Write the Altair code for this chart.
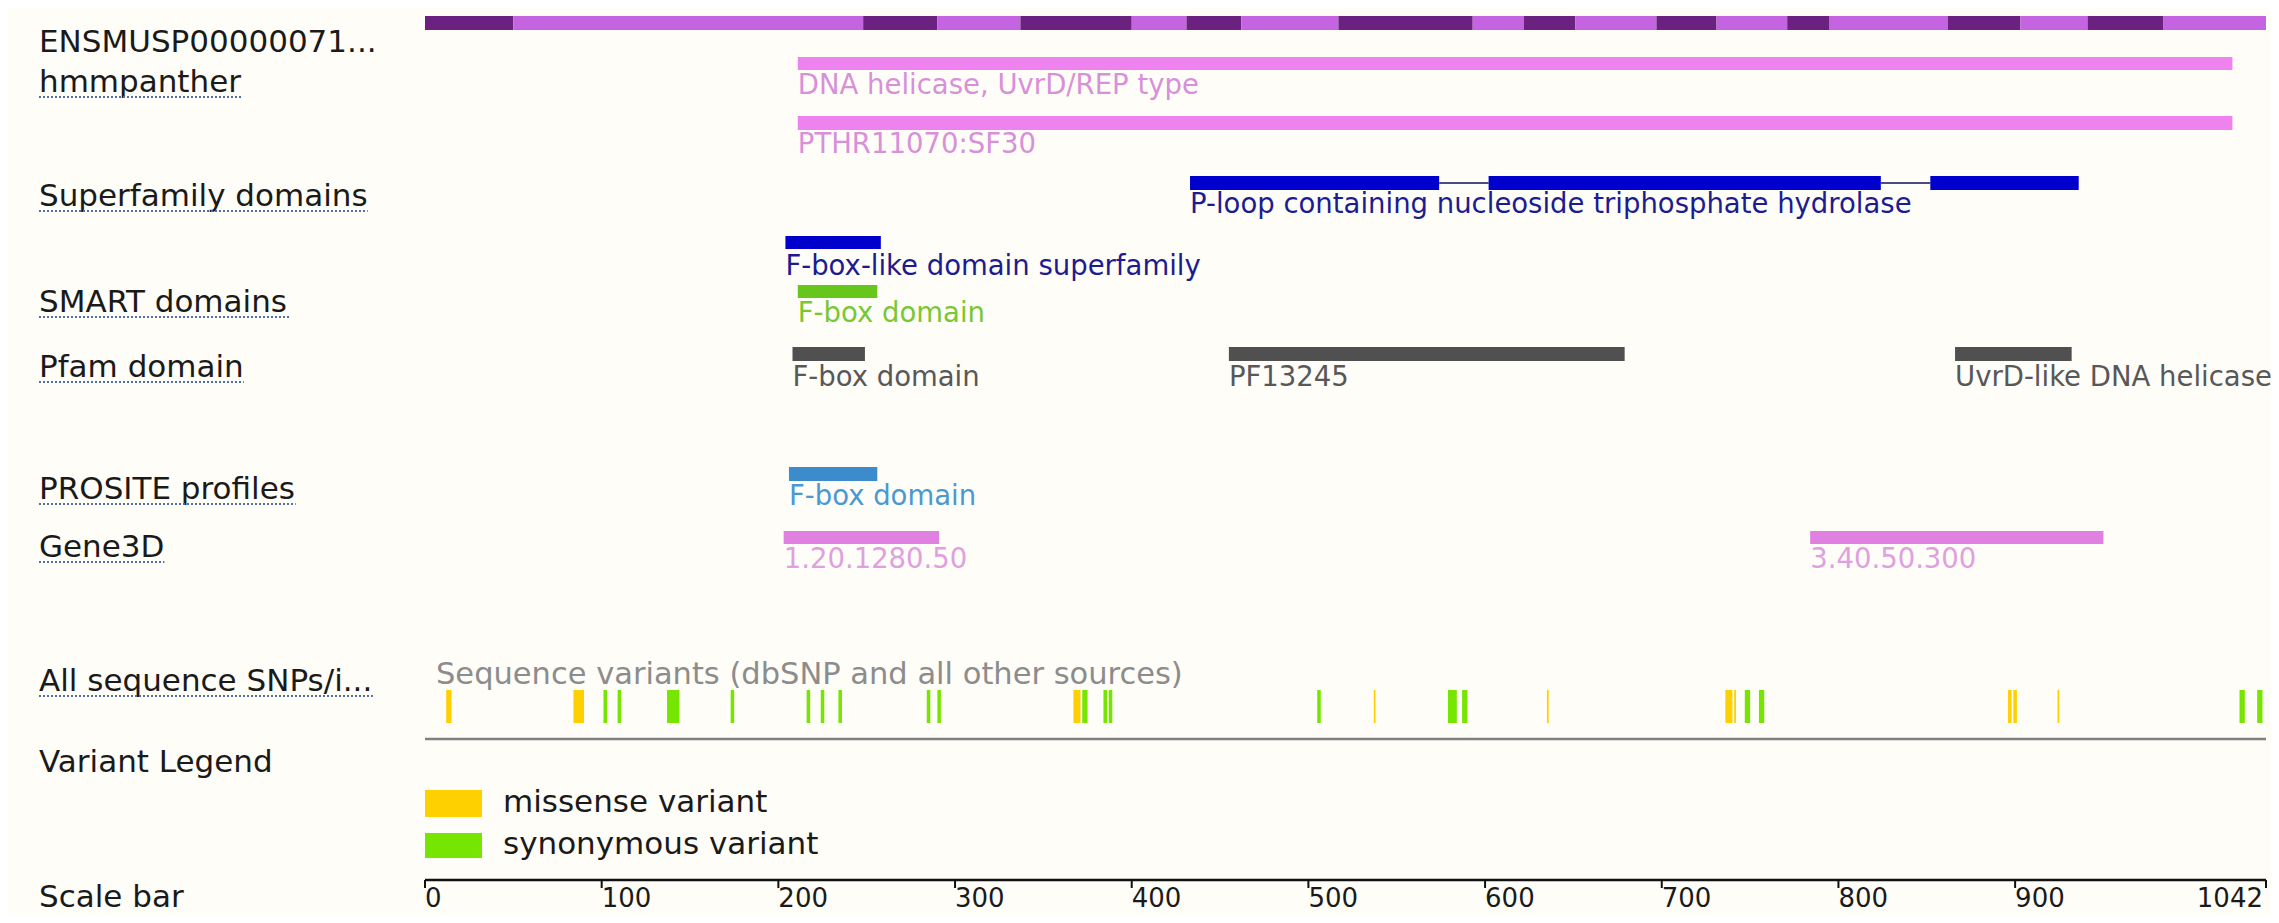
import altair as alt
import pandas as pd

# ---------------- data ----------------
PROTEIN_LENGTH = 1042
exon_bounds = [0, 50, 248, 290, 337, 400, 431, 462, 517, 593, 622, 651,
               697, 731, 771, 795, 862, 903, 941, 984, 1042]

track_labels = ["ENSMUSP00000071...", "hmmpanther", "Superfamily domains",
                "SMART domains", "Pfam domain", "PROSITE profiles", "Gene3D",
                "All sequence SNPs/i...", "Variant Legend", "Scale bar"]
track_linked = [False, True, True, True, True, True, True, True, False, False]

feature_rows = ["hmm1", "hmm2", "sf_fbox", "smart", "pfam", "pfam", "pfam",
                "prosite", "gene3d", "gene3d"]
feature_names = ["DNA helicase, UvrD/REP type", "PTHR11070:SF30",
                 "F-box-like domain superfamily", "F-box domain", "F-box domain",
                 "PF13245", "UvrD-like DNA helicase", "F-box domain",
                 "1.20.1280.50", "3.40.50.300"]
feature_start = [211, 211, 204, 211, 208, 455, 866, 206, 203, 784]
feature_end = [1023, 1023, 258, 256, 249, 679, 932, 256, 291, 950]

ploop_name = "P-loop containing nucleoside triphosphate hydrolase"
ploop_start = [433, 602, 852]
ploop_end = [574, 824, 936]

variant_start = [12, 84, 101, 109, 137, 173, 216, 224, 234, 284, 290, 367, 372,
                 384, 387, 505, 537, 579, 587, 635, 736, 741, 747, 755, 896,
                 899, 924, 1027, 1037]
variant_end = [15, 90, 103, 111, 144, 175, 218, 226, 236, 286, 292, 371, 375,
               386, 389, 507, 538, 584, 590, 636, 740, 742, 750, 758, 898,
               901, 925, 1030, 1040]
variant_type = ["missense variant", "missense variant", "synonymous variant",
                "synonymous variant", "synonymous variant", "synonymous variant",
                "synonymous variant", "synonymous variant", "synonymous variant",
                "synonymous variant", "synonymous variant", "missense variant",
                "synonymous variant", "synonymous variant", "synonymous variant",
                "synonymous variant", "missense variant", "synonymous variant",
                "synonymous variant", "missense variant", "missense variant",
                "missense variant", "synonymous variant", "synonymous variant",
                "missense variant", "missense variant", "missense variant",
                "synonymous variant", "synonymous variant"]
variants_caption = "Sequence variants (dbSNP and all other sources)"
legend_types = ["missense variant", "synonymous variant"]
scale_ticks = [0, 100, 200, 300, 400, 500, 600, 700, 800, 900, 1042]

# ---------------- layout & style ----------------
W, H = 2263, 907
X0, X1 = 417, 2258
LABEL_X = 31
FONT = "DejaVu Sans"
LEFT_SIZE, FEAT_SIZE, TICK_SIZE, LEG_SIZE = 31, 27.5, 26, 31

ROW = {
    "protein": dict(top=8, bottom=22),
    "hmm1": dict(top=49, bottom=62, text=86),
    "hmm2": dict(top=108, bottom=122, text=145),
    "ploop": dict(top=168, bottom=182, text=205),
    "sf_fbox": dict(top=228, bottom=241, text=267),
    "smart": dict(top=277, bottom=290, text=314),
    "pfam": dict(top=339, bottom=353, text=378),
    "prosite": dict(top=459, bottom=473, text=497),
    "gene3d": dict(top=523, bottom=536, text=560),
    "snp": dict(top=682, bottom=715, line=731, text=676),
    "scale": dict(line=872, tick=880, text=899),
}
LABEL_BASE = [44, 84, 198, 304, 369, 491, 549, 683, 764, 899]
LEGEND_ROWS = [dict(top=782, bottom=809, text=804), dict(top=825, bottom=850, text=846)]
SWATCH_X = (417, 474)
LEGEND_TEXT_X = 495

STYLE = {  # bar colour, label colour
    "hmm1": ("#EE82EE", "#D890D8"),
    "hmm2": ("#EE82EE", "#D890D8"),
    "ploop": ("#0000CD", "#1C1C90"),
    "sf_fbox": ("#0000CD", "#1C1C90"),
    "smart": ("#66C61C", "#78C832"),
    "pfam": ("#505050", "#585858"),
    "prosite": ("#3C8CCB", "#4A98D2"),
    "gene3d": ("#E080E0", "#E0A0E0"),
}
EXON_DARK, EXON_LIGHT = "#6A2180", "#C464E0"
VAR_COLORS = {"missense variant": "#FFD000", "synonymous variant": "#76E600"}

CHAR_W = {" ": .318, "A": .684, "B": .686, "C": .698, "D": .770, "E": .632,
          "F": .575, "G": .775, "I": .295, "L": .557, "M": .863, "N": .748,
          "O": .787, "P": .603, "R": .695, "S": .635, "T": .611, "U": .732,
          "V": .684, "a": .613, "b": .635, "c": .550, "d": .635, "e": .615,
          "f": .352, "g": .635, "h": .634, "i": .278, "l": .278, "m": .974,
          "n": .634, "o": .612, "p": .635, "q": .635, "r": .411, "s": .521,
          "t": .392, "u": .634, "v": .592, "y": .592, "/": .337, ".": .318,
          "-": .361, "3": .636}


def text_width(s, size):
    return sum(CHAR_W.get(c, .6) for c in s) * size


xs = alt.Scale(domain=[0, PROTEIN_LENGTH], range=[X0, X1])
ys = alt.Scale(domain=[0, H], range=[0, H])


def X(f):
    return alt.X(f"{f}:Q", scale=xs, axis=None)


def Y(f):
    return alt.Y(f"{f}:Q", scale=ys, axis=None)


layers = []

# protein bar (exons)
exon_df = pd.DataFrame({
    "start": exon_bounds[:-1], "end": exon_bounds[1:],
    "shade": ["dark" if i % 2 == 0 else "light" for i in range(len(exon_bounds) - 1)],
})
exon_df["y0"] = ROW["protein"]["top"]
exon_df["y1"] = ROW["protein"]["bottom"]
layers.append(alt.Chart(exon_df).mark_rect().encode(
    x=X("start"), x2="end", y=Y("y0"), y2="y1",
    color=alt.Color("shade:N", scale=alt.Scale(domain=["dark", "light"],
                                              range=[EXON_DARK, EXON_LIGHT]), legend=None)))

# domain features
feat_df = pd.DataFrame({"row": feature_rows, "name": feature_names,
                        "start": feature_start, "end": feature_end})
for row in ["hmm1", "hmm2", "sf_fbox", "smart", "pfam", "prosite", "gene3d"]:
    d = feat_df[feat_df.row == row].copy()
    d["y0"] = ROW[row]["top"]
    d["y1"] = ROW[row]["bottom"]
    d["ty"] = ROW[row]["text"]
    bar_c, txt_c = STYLE[row]
    layers.append(alt.Chart(d).mark_rect(color=bar_c).encode(
        x=X("start"), x2="end", y=Y("y0"), y2="y1"))
    layers.append(alt.Chart(d).mark_text(
        align="left", baseline="alphabetic", font=FONT, fontSize=FEAT_SIZE,
        color=txt_c).encode(x=X("start"), y=Y("ty"), text="name:N"))

# P-loop superfamily (multi-part)
pl_df = pd.DataFrame({"start": ploop_start, "end": ploop_end})
pl_df["y0"] = ROW["ploop"]["top"]
pl_df["y1"] = ROW["ploop"]["bottom"]
link_df = pd.DataFrame({"start": ploop_end[:-1], "end": ploop_start[1:]})
link_df["ym"] = (ROW["ploop"]["top"] + ROW["ploop"]["bottom"]) / 2
layers.append(alt.Chart(link_df).mark_rule(color="#10105A", strokeWidth=1.5).encode(
    x=X("start"), x2="end", y=Y("ym")))
layers.append(alt.Chart(pl_df).mark_rect(color=STYLE["ploop"][0]).encode(
    x=X("start"), x2="end", y=Y("y0"), y2="y1"))
pl_lab = pd.DataFrame({"name": [ploop_name], "start": [ploop_start[0]],
                       "ty": [ROW["ploop"]["text"]]})
layers.append(alt.Chart(pl_lab).mark_text(
    align="left", baseline="alphabetic", font=FONT, fontSize=FEAT_SIZE,
    color=STYLE["ploop"][1]).encode(x=X("start"), y=Y("ty"), text="name:N"))

# variants
var_df = pd.DataFrame({"start": variant_start, "end": variant_end, "type": variant_type})
var_df["y0"] = ROW["snp"]["top"]
var_df["y1"] = ROW["snp"]["bottom"]
var_scale = alt.Scale(domain=legend_types, range=[VAR_COLORS[t] for t in legend_types])
layers.append(alt.Chart(var_df).mark_rect().encode(
    x=X("start"), x2="end", y=Y("y0"), y2="y1",
    color=alt.Color("type:N", scale=var_scale, legend=None)))
snp_line = pd.DataFrame({"start": [0], "end": [PROTEIN_LENGTH], "y": [ROW["snp"]["line"]]})
layers.append(alt.Chart(snp_line).mark_rule(color="#808080", strokeWidth=2.5).encode(
    x=X("start"), x2="end", y=Y("y")))
cap_df = pd.DataFrame({"t": [variants_caption], "y": [ROW["snp"]["text"]]})
layers.append(alt.Chart(cap_df).mark_text(
    align="left", baseline="alphabetic", font=FONT, fontSize=30.5,
    color="#8C8C8C").encode(x=alt.value(X0 + 11), y=Y("y"), text="t:N"))

# variant legend
leg_df = pd.DataFrame({"type": legend_types,
                       "y0": [r["top"] for r in LEGEND_ROWS],
                       "y1": [r["bottom"] for r in LEGEND_ROWS],
                       "ty": [r["text"] for r in LEGEND_ROWS]})
layers.append(alt.Chart(leg_df).mark_rect().encode(
    x=alt.value(SWATCH_X[0]), x2=alt.value(SWATCH_X[1]), y=Y("y0"), y2="y1",
    color=alt.Color("type:N", scale=var_scale, legend=None)))
layers.append(alt.Chart(leg_df).mark_text(
    align="left", baseline="alphabetic", font=FONT, fontSize=LEG_SIZE,
    color="#1A1A1A").encode(x=alt.value(LEGEND_TEXT_X), y=Y("ty"), text="type:N"))

# scale bar
sc_line = pd.DataFrame({"start": [0], "end": [PROTEIN_LENGTH], "y": [ROW["scale"]["line"]]})
layers.append(alt.Chart(sc_line).mark_rule(color="#111111", strokeWidth=2.5).encode(
    x=X("start"), x2="end", y=Y("y")))
tick_df = pd.DataFrame({"v": scale_ticks, "label": [str(t) for t in scale_ticks]})
tick_df["y0"] = ROW["scale"]["line"]
tick_df["y1"] = ROW["scale"]["tick"]
tick_df["ty"] = ROW["scale"]["text"]
layers.append(alt.Chart(tick_df).mark_rule(color="#111111", strokeWidth=2).encode(
    x=X("v"), y=Y("y0"), y2="y1"))
layers.append(alt.Chart(tick_df.iloc[:-1]).mark_text(
    align="left", baseline="alphabetic", font=FONT, fontSize=TICK_SIZE, dx=0,
    color="#1A1A1A").encode(x=X("v"), y=Y("ty"), text="label:N"))
layers.append(alt.Chart(tick_df.iloc[-1:]).mark_text(
    align="right", baseline="alphabetic", font=FONT, fontSize=TICK_SIZE, dx=-3,
    color="#1A1A1A").encode(x=X("v"), y=Y("ty"), text="label:N"))

# left track labels + dotted underlines
lab_df = pd.DataFrame({"label": track_labels, "base": LABEL_BASE, "linked": track_linked})
layers.append(alt.Chart(lab_df).mark_text(
    align="left", baseline="alphabetic", font=FONT, fontSize=LEFT_SIZE,
    color="#1A1A1A").encode(x=alt.value(LABEL_X), y=Y("base"), text="label:N"))
ul = lab_df[lab_df.linked].copy()
ul["u0"] = LABEL_X
ul["u1"] = [LABEL_X + text_width(s, LEFT_SIZE) for s in ul.label]
ul["uy"] = ul.base + 5
layers.append(alt.Chart(ul).mark_rule(color="#4F6FA8", strokeWidth=2,
                                      strokeDash=[2, 2]).encode(
    x=alt.X("u0:Q", scale=None, axis=None), x2="u1:Q", y=Y("uy")))

chart = alt.layer(*layers).resolve_scale(x="independent", color="independent").properties(
    width=W, height=H, padding=0, autosize="none", background="#FEFDF8"
).configure_view(stroke=None)

chart.save("out.html", embed_options={"renderer": "svg", "actions": False})
